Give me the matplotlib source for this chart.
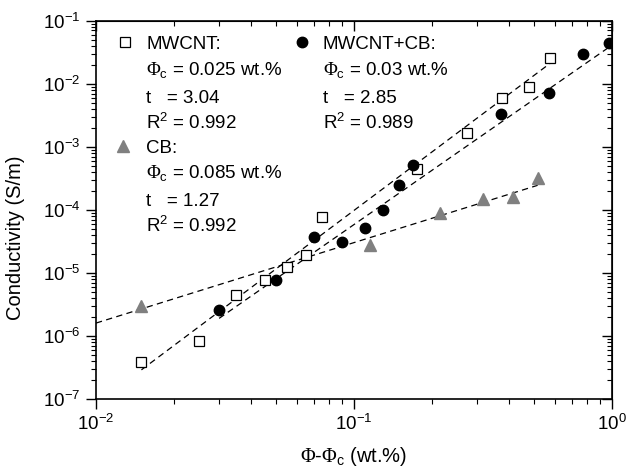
import matplotlib
matplotlib.use("Agg")
import matplotlib.pyplot as plt
from matplotlib.ticker import LogLocator, NullFormatter

plt.rcParams["font.family"] = ["Liberation Sans", "DejaVu Sans"]
plt.rcParams["mathtext.fontset"] = "custom"
plt.rcParams["mathtext.rm"] = "Liberation Serif"
plt.rcParams["mathtext.sf"] = "Liberation Sans"
plt.rcParams["mathtext.it"] = "Liberation Sans:italic"

# MWCNT (open squares), x = phi - 0.025
mwcnt_x = [0.015, 0.025, 0.035, 0.045, 0.055, 0.065, 0.075, 0.175, 0.275, 0.375, 0.475, 0.575]
mwcnt_y = [3.9e-7, 8.4e-7, 4.5e-6, 7.8e-6, 1.22e-5, 1.95e-5, 7.8e-5, 4.5e-4, 1.65e-3, 5.9e-3, 8.8e-3, 2.6e-2]

# MWCNT+CB (filled circles), x = phi - 0.03
hybrid_x = [0.03, 0.05, 0.07, 0.09, 0.11, 0.13, 0.15, 0.17, 0.37, 0.57, 0.77, 0.97]
hybrid_y = [2.55e-6, 7.8e-6, 3.65e-5, 3.1e-5, 5.2e-5, 9.8e-5, 2.5e-4, 5.2e-4, 3.3e-3, 7.2e-3, 3.0e-2, 4.4e-2]

# CB (grey triangles), x = phi - 0.085
cb_x = [0.015, 0.115, 0.215, 0.315, 0.415, 0.515]
cb_y = [3.0e-6, 2.8e-5, 8.8e-5, 1.48e-4, 1.58e-4, 3.2e-4]

# power-law fit lines (end points)
mwcnt_fit_x = [0.015, 0.575]
mwcnt_fit_y = [2.9e-7, 2.1e-2]
hybrid_fit_x = [0.03, 1.0]
hybrid_fit_y = [1.9e-6, 4.1e-2]
cb_fit_x = [0.01, 0.515]
cb_fit_y = [1.6e-6, 2.45e-4]

grey = "#808080"
fs = 13.5

fig = plt.figure(figsize=(6.28, 4.71), dpi=100)
ax = fig.add_axes([96 / 628, 1 - 399 / 471, 516 / 628, 378.3 / 471])

dash = dict(color="black", lw=0.9, ls=(0, (5, 3.5)))
ax.plot(mwcnt_fit_x, mwcnt_fit_y, **dash)
ax.plot(hybrid_fit_x, hybrid_fit_y, **dash)
ax.plot(cb_fit_x, cb_fit_y, **dash)

ax.plot(mwcnt_x, mwcnt_y, "s", ms=6.5, mfc="white", mec="black", mew=0.9, ls="none", zorder=3)
ax.plot(hybrid_x, hybrid_y, "o", ms=7.5, color="black", ls="none", zorder=3)
ax.plot(cb_x, cb_y, "^", ms=8.5, color=grey, ls="none", zorder=3)

ax.set_xscale("log")
ax.set_yscale("log")
ax.set_xlim(0.01, 1)
ax.set_ylim(1e-7, 1e-1)

for a in (ax.xaxis, ax.yaxis):
    a.set_major_locator(LogLocator(base=10, numticks=20))
    a.set_minor_locator(LogLocator(base=10, subs=range(2, 10), numticks=20))
    a.set_minor_formatter(NullFormatter())
ax.tick_params(which="major", direction="out", length=7, width=1, labelsize=fs, pad=4)
ax.tick_params(which="minor", direction="out", length=3.5, width=0.8)
for s in ax.spines.values():
    s.set_linewidth(1.2)

# mirrored ticks pointing inward on top and right
top = ax.secondary_xaxis("top")
right = ax.secondary_yaxis("right")
for sec, a in ((top, top.xaxis), (right, right.yaxis)):
    a.set_major_locator(LogLocator(base=10, numticks=20))
    a.set_minor_locator(LogLocator(base=10, subs=range(2, 10), numticks=20))
    a.set_major_formatter(NullFormatter())
    a.set_minor_formatter(NullFormatter())
    sec.tick_params(which="major", direction="in", length=7, width=1)
    sec.tick_params(which="minor", direction="in", length=3.5, width=0.8)

ax.set_xlabel(r"$\Phi$-$\Phi_\mathsf{c}$ (wt.%)", fontsize=fs + 1, labelpad=8)
ax.set_ylabel("Conductivity (S/m)", fontsize=fs + 1)
ax.yaxis.set_label_coords(-0.138, 0.425)


def fx(px):
    return (px - 96) / 516


def fy(py):
    return (399 - py) / 378.3


tr = ax.transAxes
ax.plot(fx(125), fy(42), "s", ms=6.5, mfc="white", mec="black", mew=0.9, transform=tr, clip_on=False)
ax.plot(fx(302), fy(42), "o", ms=7.5, color="black", transform=tr, clip_on=False)
ax.plot(fx(123), fy(146), "^", ms=8.5, color=grey, transform=tr, clip_on=False)

col1 = [
    (42, "MWCNT:"),
    (68, r"$\Phi_\mathsf{c}$ = 0.025 wt.%"),
    (96, "t   = 3.04"),
    (122, r"$\mathdefault{R^2}$ = 0.992"),
    (146, "CB:"),
    (171, r"$\Phi_\mathsf{c}$ = 0.085 wt.%"),
    (199, "t   = 1.27"),
    (225, r"$\mathdefault{R^2}$ = 0.992"),
]
col2 = [
    (42, "MWCNT+CB:"),
    (68, r"$\Phi_\mathsf{c}$ = 0.03 wt.%"),
    (96, "t   = 2.85"),
    (122, r"$\mathdefault{R^2}$ = 0.989"),
]
for py, s in col1:
    ax.text(fx(146), fy(py + 6.7), s, fontsize=fs, va="baseline", ha="left", transform=tr)
for py, s in col2:
    ax.text(fx(323), fy(py + 6.7), s, fontsize=fs, va="baseline", ha="left", transform=tr)

fig.savefig("out.png", dpi=100)
